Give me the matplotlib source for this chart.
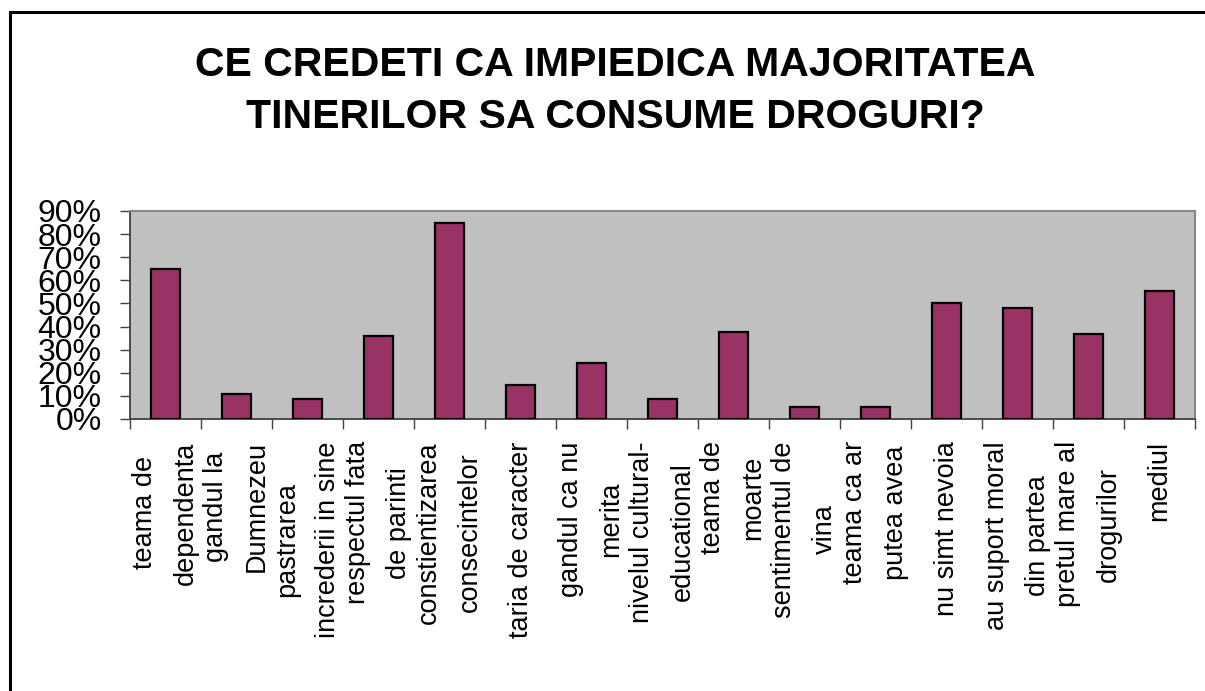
import numpy as np
import matplotlib
matplotlib.use('Agg')
import matplotlib.pyplot as plt
from matplotlib.patches import Rectangle
from matplotlib.ticker import FuncFormatter

plt.rcParams['font.family'] = ['Liberation Sans', 'DejaVu Sans']

# ---- data ----
categories = [
    'teama de\ndependenta',
    'gandul la\nDumnezeu',
    'pastrarea\nincrederii in sine',
    'respectul fata\nde parinti',
    'constientizarea\nconsecintelor',
    'taria de caracter',
    'gandul ca nu\nmerita',
    'nivelul cultural-\neducational',
    'teama de\nmoarte',
    'sentimentul de\nvina',
    'teama ca ar\nputea avea',
    'nu simt nevoia',
    'au suport moral\ndin partea',
    'pretul mare al\ndrogurilor',
    'mediul',
]
percent = [65.0, 10.7, 8.5, 35.7, 84.8, 14.7, 24.1, 8.5, 37.7, 5.3, 5.3, 50.3, 48.2, 36.7, 55.6]
y_ticks = [0, 10, 20, 30, 40, 50, 60, 70, 80, 90]
title_lines = ['CE CREDETI CA IMPIEDICA MAJORITATEA', 'TINERILOR SA CONSUME DROGURI?']

W, H = 1205, 691
fig = plt.figure(figsize=(W / 100, H / 100), dpi=100)
fig.patch.set_facecolor('white')

# plot area in pixels: x 130..1195, y 211..419
ax = fig.add_axes([130 / W, 1 - 419 / H, 1065 / W, 208 / H])
ax.set_facecolor('#c0c0c0')

x = np.arange(len(categories))
ax.bar(x, percent, width=0.41, color='#993366', edgecolor='black', linewidth=1.6, zorder=3)

ax.set_xlim(-0.5, len(categories) - 0.5)
ax.set_ylim(0, 90)

# major x ticks on category boundaries, labels on minor ticks at centres
ax.set_xticks(np.arange(len(categories) + 1) - 0.5)
ax.set_xticklabels([])
ax.tick_params(axis='x', which='major', direction='out', length=7.5, width=1.0, color='#404040')
ax.set_xticks(x, minor=True)
ax.set_xticklabels(categories, minor=True, rotation=90, fontsize=19.5, linespacing=1.72,
                   ha='center', va='top', multialignment='center')
ax.tick_params(axis='x', which='minor', length=0, pad=16)

ax.set_yticks(y_ticks)
ax.yaxis.set_major_formatter(FuncFormatter(lambda v, p: f'{v:.0f}%'))
ax.tick_params(axis='y', direction='out', length=7.5, width=1.0, color='#404040',
               labelsize=23, pad=13)

for side in ['top', 'right']:
    ax.spines[side].set_color('#888888')
    ax.spines[side].set_linewidth(1.5)
for side in ['left', 'bottom']:
    ax.spines[side].set_color('#404040')
    ax.spines[side].set_linewidth(1.3)

# title
fig.text(615 / W, 1 - 76 / H, title_lines[0], ha='center', va='baseline',
         fontsize=29.5, fontweight='bold')
fig.text(615 / W, 1 - 128 / H, title_lines[1], ha='center', va='baseline',
         fontsize=29.5, fontweight='bold')

# outer chart frame (only left and top edges visible)
fig.patches.append(Rectangle((10 / W, -0.2), 1.3, 1.2 - 12 / H, transform=fig.transFigure,
                             fill=False, edgecolor='black', linewidth=2.2, clip_on=False))

fig.savefig('out.png', dpi=100, facecolor='white')
